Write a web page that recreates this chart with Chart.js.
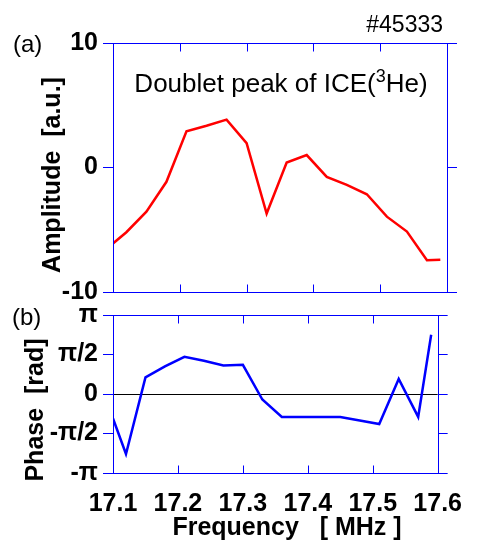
<!DOCTYPE html>
<html>
<head>
<meta charset="utf-8">
<script src="https://cdn.jsdelivr.net/npm/chart.js@4"></script>
<style>
  body { margin: 0; background: #fff; width: 478px; height: 546px; position: relative; overflow: hidden; }
  canvas { position: absolute; left: 0; }
  #cAmp { top: 0; }
  #cPhase { top: 295px; }
</style>
</head>
<body>
<canvas id="cAmp" width="478" height="320"></canvas>
<canvas id="cPhase" width="478" height="251"></canvas>
<script>
// ICE doublet peak, shot #45333: amplitude (a) and phase (b) vs frequency

const freq = [17.10, 17.12, 17.15, 17.18, 17.21, 17.24, 17.27, 17.30, 17.33,
              17.36, 17.39, 17.42, 17.45, 17.48, 17.51, 17.54, 17.57, 17.59];

// amplitude [a.u.]
const amplitude = [-6.1, -5.2, -3.55, -1.15, 2.9, 3.35, 3.85, 1.95, -3.7,
                   0.4, 1.0, -0.75, -1.4, -2.15, -3.95, -5.15, -7.45, -7.4];

// phase, in units of pi
const phasePi = [-0.31, -0.76, 0.21, 0.35, 0.47, 0.42, 0.36, 0.37, -0.07,
                 -0.29, -0.29, -0.29, -0.29, -0.335, -0.38, 0.19, -0.29, 0.75];

const freqTicks = [17.1, 17.2, 17.3, 17.4, 17.5, 17.6];
const ampTicks = [-10, 0, 10];
const phaseTicks = [-1, -0.5, 0, 0.5, 1];
const phaseTickLabels = ["-π", "-π/2", "0", "π/2", "π"];

const FONT = "'Liberation Sans', Arial, Helvetica, sans-serif";
const BLUE = "#0000ff";

Chart.defaults.font.family = FONT;
Chart.defaults.color = "#000";

function $(id){ return document.getElementById(id); }

function setTicks(values){
  return scale => { scale.ticks = values.map(v => ({ value: v })); };
}

function drawText(ctx, it){
  ctx.save();
  ctx.font = `${it.bold ? "bold " : ""}${it.size}px ${FONT}`;
  ctx.fillStyle = "#000";
  ctx.textAlign = it.align || "left";
  ctx.textBaseline = it.base || "alphabetic";
  ctx.translate(it.x, it.y);
  if (it.rot) ctx.rotate(it.rot);
  ctx.fillText(it.t, 0, 0);
  ctx.restore();
}

// text made of runs (for the superscript in the annotation)
function drawRuns(ctx, r){
  ctx.save();
  ctx.fillStyle = "#000";
  ctx.textBaseline = "alphabetic";
  ctx.textAlign = "left";
  let total = 0;
  for (const p of r.runs){
    ctx.font = `${p.size}px ${FONT}`;
    p.w = ctx.measureText(p.t).width;
    total += p.w;
  }
  let x = r.cx - total / 2;
  for (const p of r.runs){
    ctx.font = `${p.size}px ${FONT}`;
    ctx.fillText(p.t, x, r.y + (p.dy || 0));
    x += p.w;
  }
  ctx.restore();
}

// blue box with inward ticks on top and bottom, plus the loose texts
const frame = {
  id: "frame",
  afterDraw(chart, args, opts){
    const { ctx, chartArea: a } = chart;
    const xs = chart.scales.x;
    ctx.save();
    ctx.strokeStyle = BLUE;
    ctx.lineWidth = 1;
    const L = Math.round(a.left) + 0.5, R = Math.round(a.right) + 0.5;
    const T = Math.round(a.top) + 0.5, B = Math.round(a.bottom) + 0.5;
    ctx.strokeRect(L, T, R - L, B - T);
    ctx.beginPath();
    for (const v of freqTicks){
      const px = Math.round(xs.getPixelForValue(v)) + 0.5;
      ctx.moveTo(px, T); ctx.lineTo(px, T + 8);
      ctx.moveTo(px, B); ctx.lineTo(px, B - 8);
    }
    ctx.stroke();
    ctx.restore();
    for (const it of opts.texts || []) drawText(ctx, it);
    for (const r of opts.runs || []) drawRuns(ctx, r);
  }
};

function yAxis(min, max, ticks, extra){
  return Object.assign({
    type: "linear", position: "left", min, max,
    afterBuildTicks: setTicks(ticks),
    afterFit: s => { s.width = 113; },
    border: { display: false },
    grid: { drawOnChartArea: false, tickLength: 10, tickColor: BLUE, tickWidth: 1, color: BLUE },
    ticks: { padding: 5, font: { size: 25, weight: "bold" }, color: "#000" }
  }, extra || {});
}

function rightAxis(min, max, ticks){
  return {
    type: "linear", position: "right", min, max,
    afterBuildTicks: setTicks(ticks),
    afterFit: s => { s.width = 31; },
    border: { display: false },
    grid: { drawOnChartArea: false, tickLength: 10, tickColor: BLUE, tickWidth: 1 },
    ticks: { display: false }
  };
}

const common = {
  responsive: false,
  animation: false,
  events: [],
  plugins: { legend: { display: false }, tooltip: { enabled: false } }
};

// (a) amplitude
new Chart($("cAmp"), {
  type: "line",
  data: {
    datasets: [{
      data: freq.map((f, i) => ({ x: f, y: amplitude[i] })),
      borderColor: "#ff0000",
      borderWidth: 2.5,
      pointRadius: 0,
      tension: 0,
      fill: false
    }]
  },
  options: Object.assign({}, common, {
    layout: { padding: { top: 43, bottom: 28, left: 0, right: 0 } },
    plugins: Object.assign({}, common.plugins, {
      frame: {
        texts: [
          { t: "#45333", x: 443, y: 32, size: 23, align: "right" },
          { t: "(a)", x: 13, y: 52, size: 24 },
          { t: "Amplitude  [a.u.]", x: 53, y: 175, size: 25, bold: true, align: "center", base: "middle", rot: -Math.PI / 2 }
        ],
        runs: [
          { cx: 281, y: 92, runs: [
            { t: "Doublet peak of ICE(", size: 26 },
            { t: "3", size: 18, dy: -10 },
            { t: "He)", size: 26 }
          ]}
        ]
      }
    }),
    scales: {
      x: { type: "linear", min: 17.1, max: 17.6, display: false, afterBuildTicks: setTicks(freqTicks) },
      y: yAxis(-10, 10, ampTicks),
      y2: rightAxis(-10, 10, ampTicks)
    }
  }),
  plugins: [frame]
});

// (b) phase
new Chart($("cPhase"), {
  type: "line",
  data: {
    datasets: [{
      data: freq.map((f, i) => ({ x: f, y: phasePi[i] })),
      borderColor: BLUE,
      borderWidth: 2.5,
      pointRadius: 0,
      tension: 0,
      fill: false
    }]
  },
  options: Object.assign({}, common, {
    layout: { padding: { top: 14, bottom: 0, left: 0, right: 0 } },
    plugins: Object.assign({}, common.plugins, {
      frame: {
        texts: [
          { t: "(b)", x: 12, y: 30, size: 24 },
          { t: "Phase  [rad]", x: 36, y: 115, size: 25, bold: true, align: "center", base: "middle", rot: -Math.PI / 2 },
          { t: "Frequency   [ MHz ]", x: 287, y: 233, size: 25, bold: true, align: "center", base: "middle" }
        ]
      }
    }),
    scales: {
      x: {
        type: "linear", min: 17.1, max: 17.6,
        afterBuildTicks: setTicks(freqTicks),
        afterFit: s => { s.height = 73; },
        border: { display: false },
        grid: { display: false, drawTicks: false },
        ticks: { padding: 16, font: { size: 25, weight: "bold" }, color: "#000", callback: v => v.toFixed(1) }
      },
      y: yAxis(-1, 1, phaseTicks, {
        grid: {
          drawOnChartArea: true, tickLength: 10, tickColor: BLUE, tickWidth: 1,
          color: c => (c.tick && c.tick.value === 0) ? "#000" : "rgba(0,0,0,0)"
        },
        ticks: { padding: 5, font: { size: 25, weight: "bold" }, color: "#000", callback: (v, i) => phaseTickLabels[i] }
      }),
      y2: rightAxis(-1, 1, phaseTicks)
    }
  }),
  plugins: [frame]
});
</script>
</body>
</html>
